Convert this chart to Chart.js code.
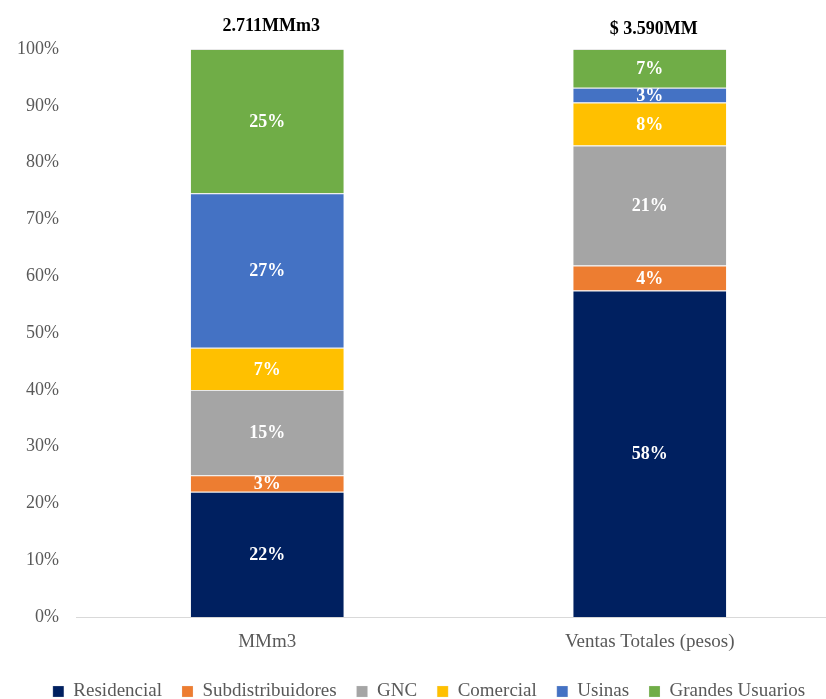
<!DOCTYPE html>
<html>
<head>
<meta charset="utf-8">
<script src="https://cdn.jsdelivr.net/npm/chart.js@4"></script>
<style>
  html, body { margin: 0; padding: 0; background: #fff; overflow: hidden; }
  #wrap { width: 870px; height: 711px; }
</style>
</head>
<body>
<div id="wrap"><canvas id="chart"></canvas></div>
<script>
// categorías y totales
var categories = ['MMm3', 'Ventas Totales (pesos)'];
var totals = ['2.711MMm3', '$ 3.590MM'];
var yTicks = [0, 10, 20, 30, 40, 50, 60, 70, 80, 90, 100];

// participación (%) por segmento
var seriesNames = ['Residencial', 'Subdistribuidores', 'GNC', 'Comercial', 'Usinas', 'Grandes Usuarios'];
var residencial = [22.1, 57.5];
var subdistribuidores = [2.9, 4.4];
var gnc = [15.0, 21.1];
var comercial = [7.4, 7.6];
var usinas = [27.2, 2.6];
var grandesUsuarios = [25.4, 6.8];
var seriesColors = ['#002060', '#ED7D31', '#A5A5A5', '#FFC000', '#4472C4', '#70AD47'];

var FONT = '"Liberation Serif", "Times New Roman", serif';
var allSeries = [residencial, subdistribuidores, gnc, comercial, usinas, grandesUsuarios];

var datasets = allSeries.map(function(vals, i) {
  return {
    label: seriesNames[i],
    data: vals,
    backgroundColor: seriesColors[i],
    borderColor: 'rgba(230,230,230,0.9)',
    borderWidth: { top: 1, bottom: 0, left: 0, right: 0 },
    borderSkipped: false,
    barPercentage: 0.4,
    categoryPercentage: 1.0
  };
});

// etiquetas de valores dentro de las barras y totales arriba
var labelPlugin = {
  id: 'labelPlugin',
  afterDatasetsDraw: function(chart) {
    var ctx = chart.ctx;
    ctx.save();
    ctx.textAlign = 'center';
    ctx.textBaseline = 'middle';
    ctx.font = 'bold 18px ' + FONT;
    ctx.fillStyle = '#ffffff';
    chart.data.datasets.forEach(function(ds, di) {
      var meta = chart.getDatasetMeta(di);
      meta.data.forEach(function(bar, i) {
        var v = ds.data[i];
        var midY = (bar.y + bar.base) / 2;
        ctx.fillText(Math.round(v) + '%', bar.x, midY + 1);
      });
    });
    var lastMeta = chart.getDatasetMeta(chart.data.datasets.length - 1);
    ctx.fillStyle = '#000000';
    lastMeta.data.forEach(function(bar, i) {
      ctx.fillText(totals[i], bar.x + 4, bar.y - 23 + i * 3);
    });
    ctx.restore();
  }
};

new Chart(document.getElementById('chart'), {
  type: 'bar',
  data: { labels: categories, datasets: datasets },
  options: {
    responsive: true,
    maintainAspectRatio: false,
    animation: false,
    layout: { padding: { top: 49, right: 29, left: 17, bottom: 0 } },
    scales: {
      x: {
        stacked: true,
        grid: { display: false },
        border: { display: true, color: '#d9d9d9', width: 1 },
        afterFit: function(scale) { scale.height += 4; },
        ticks: { color: '#595959', font: { family: FONT, size: 19 }, padding: 5 }
      },
      y: {
        stacked: true,
        min: 0,
        max: 100,
        grid: { display: false, drawTicks: false },
        border: { display: false },
        afterFit: function(scale) { scale.width = 59; },
        afterBuildTicks: function(scale) {
          scale.ticks = yTicks.map(function(v) { return { value: v }; });
        },
        ticks: {
          color: '#595959',
          font: { family: FONT, size: 18 },
          padding: 17,
          callback: function(value) { return value + '%'; }
        }
      }
    },
    plugins: {
      legend: {
        position: 'bottom',
        labels: {
          color: '#595959',
          font: { family: FONT, size: 19 },
          boxWidth: 11,
          boxHeight: 11,
          padding: 20
        }
      },
      tooltip: { enabled: false }
    }
  },
  plugins: [labelPlugin]
});
</script>
</body>
</html>
